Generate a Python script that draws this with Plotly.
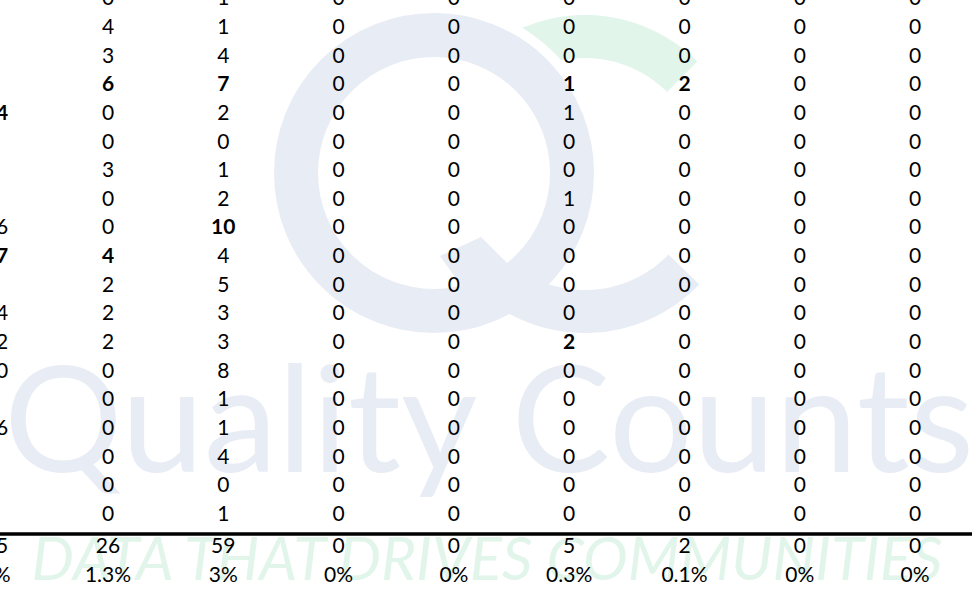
import math
import plotly.graph_objects as go

# ---------------- data ----------------
# row values per column (rows top -> bottom); column 0 is only partly visible at the left edge
col0 = ["", "", "", "", "14", "", "", "", "16", "17", "", "14", "12", "10", "", "16", "", "", ""]
col1 = [0, 4, 3, 6, 0, 0, 3, 0, 0, 4, 2, 2, 2, 0, 0, 0, 0, 0, 0]
col2 = [1, 1, 4, 7, 2, 0, 1, 2, 10, 4, 5, 3, 3, 8, 1, 1, 4, 0, 1]
col3 = [0, 0, 0, 0, 0, 0, 0, 0, 0, 0, 0, 0, 0, 0, 0, 0, 0, 0, 0]
col4 = [0, 0, 0, 0, 0, 0, 0, 0, 0, 0, 0, 0, 0, 0, 0, 0, 0, 0, 0]
col5 = [0, 0, 0, 1, 1, 0, 0, 1, 0, 0, 0, 0, 2, 0, 0, 0, 0, 0, 0]
col6 = [0, 0, 0, 2, 0, 0, 0, 0, 0, 0, 0, 0, 0, 0, 0, 0, 0, 0, 0]
col7 = [0, 0, 0, 0, 0, 0, 0, 0, 0, 0, 0, 0, 0, 0, 0, 0, 0, 0, 0]
col8 = [0, 0, 0, 0, 0, 0, 0, 0, 0, 0, 0, 0, 0, 0, 0, 0, 0, 0, 0]
totals = ["95", "26", "59", "0", "0", "5", "2", "0", "0"]
shares = ["5%", "1.3%", "3%", "0%", "0%", "0.3%", "0.1%", "0%", "0%"]
# (row, column) cells shown in bold
bold_cells = [(4, 0), (9, 0), (3, 1), (9, 1), (3, 2), (8, 2), (3, 5), (12, 5), (3, 6)]

watermark_title = "Quality Counts"
watermark_tagline = "DATA THAT DRIVES COMMUNITIES"

columns = [col0, col1, col2, col3, col4, col5, col6, col7, col8]

# ---------------- layout constants (pixel-like axes) ----------------
W, H = 972, 589
LEFT_EXTRA = 40          # part of the figure scrolled off the left edge of the page
COL0_X = -4.0
COL_X1, COL_STEP = 108.0, 115.3
ROW_STEP = 28.65
TOTAL_Y, SHARE_Y, RULE_Y = 548.0, 577.0, 534.0

GRAY = "rgb(232,236,244)"
GREEN = "rgb(226,245,235)"
FONT = "Lato"


def col_x(i):
    if i == 0:
        return COL0_X
    return COL_X1 + COL_STEP * (i - 1)


def row_y(k):
    return ROW_STEP * k


bold_set = set(bold_cells)
nx, ny, nt = [], [], []
bx, by, bt = [], [], []
for ci, col in enumerate(columns):
    for ri, v in enumerate(col):
        s = str(v)
        if s == "":
            continue
        if (ri, ci) in bold_set:
            bx.append(col_x(ci)); by.append(row_y(ri)); bt.append(s)
        else:
            nx.append(col_x(ci)); ny.append(row_y(ri)); nt.append(s)
    nx.append(col_x(ci)); ny.append(TOTAL_Y); nt.append(totals[ci])
    nx.append(col_x(ci)); ny.append(SHARE_Y); nt.append(shares[ci])

fig = go.Figure()

# watermark texts (drawn first, below the table)
fig.add_trace(go.Scatter(
    x=[489], y=[435], mode="text", text=[watermark_title],
    textfont=dict(family=FONT, size=148, color=GRAY),
    hoverinfo="skip", showlegend=False, cliponaxis=False))
fig.add_trace(go.Scatter(
    x=[487], y=[565], mode="text", text=[watermark_tagline],
    textfont=dict(family=FONT, size=60, color=GREEN, style="italic"),
    hoverinfo="skip", showlegend=False, cliponaxis=False))

# table cells
fig.add_trace(go.Scatter(
    x=nx, y=ny, mode="text", text=nt,
    textfont=dict(family=FONT, size=21, color="black"),
    hoverinfo="skip", showlegend=False, cliponaxis=False))
fig.add_trace(go.Scatter(
    x=bx, y=by, mode="text", text=bt,
    textfont=dict(family=FONT, size=21, color="black", weight="bold"),
    hoverinfo="skip", showlegend=False, cliponaxis=False))


# ---------------- logo shapes ----------------
def arc_path(cx, cy, r_out, r_in, a0, a1, n=60):
    pts = []
    for j in range(n + 1):
        a = math.radians(a0 + (a1 - a0) * j / n)
        pts.append((cx + r_out * math.cos(a), cy - r_out * math.sin(a)))
    for j in range(n, -1, -1):
        a = math.radians(a0 + (a1 - a0) * j / n)
        pts.append((cx + r_in * math.cos(a), cy - r_in * math.sin(a)))
    return "M " + " L ".join(f"{x:.1f},{y:.1f}" for x, y in pts) + " Z"


QCX, QCY = 434, 173
CCX, CCY = 585, 174
shapes = []
# green top arc of the C
shapes.append(dict(type="path", xref="x", yref="y", layer="below",
                   path=arc_path(CCX, CCY, 159, 116, 45, 125),
                   fillcolor=GREEN, line=dict(width=0)))
# white gap around the Q
shapes.append(dict(type="circle", xref="x", yref="y", layer="below",
                   x0=QCX - 165, x1=QCX + 165, y0=QCY - 165, y1=QCY + 165,
                   line=dict(color="white", width=10)))
# gray bottom arc of the C
shapes.append(dict(type="path", xref="x", yref="y", layer="below",
                   path=arc_path(CCX, CCY, 159, 116, -44, -125),
                   fillcolor=GRAY, line=dict(width=0)))
# Q ring
shapes.append(dict(type="circle", xref="x", yref="y", layer="below",
                   x0=QCX - 138, x1=QCX + 138, y0=QCY - 138, y1=QCY + 138,
                   line=dict(color=GRAY, width=44)))
# Q tail
shapes.append(dict(type="path", xref="x", yref="y", layer="below",
                   path="M 440,256 L 481,237 L 514,270 L 473,302 Z",
                   fillcolor=GRAY, line=dict(width=0)))
# rule above totals
shapes.append(dict(type="line", xref="paper", yref="y", layer="above",
                   x0=0, x1=1, y0=RULE_Y, y1=RULE_Y,
                   line=dict(color="black", width=3.5)))

fig.update_layout(
    width=W + LEFT_EXTRA, height=H,
    margin=dict(l=0, r=0, t=0, b=0, pad=0),
    paper_bgcolor="white", plot_bgcolor="white",
    showlegend=False, hovermode=False,
    shapes=shapes,
    xaxis=dict(range=[-LEFT_EXTRA, W], visible=False, fixedrange=True),
    yaxis=dict(range=[H, 0], visible=False, fixedrange=True),
)

fig.write_html(
    "out.html",
    config={"displayModeBar": False, "staticPlot": True},
    post_script=(
        "document.body.style.margin='0';"
        "document.body.style.marginLeft='-%dpx';"
        "document.body.style.overflow='hidden';" % LEFT_EXTRA
    ),
)
